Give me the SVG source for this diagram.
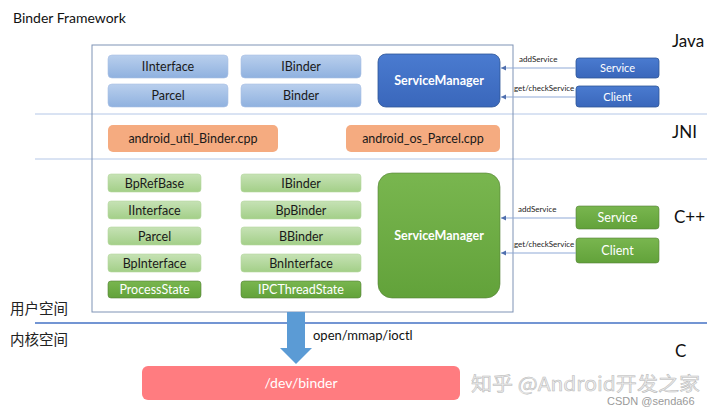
<svg xmlns="http://www.w3.org/2000/svg" width="720" height="415" viewBox="0 0 720 415">
<defs>
<linearGradient id="gBlueL" x1="0" y1="0" x2="0" y2="1"><stop offset="0" stop-color="#b9cfed"/><stop offset="1" stop-color="#8fb1df"/></linearGradient>
<linearGradient id="gBlue" x1="0" y1="0" x2="0" y2="1"><stop offset="0" stop-color="#4a7bd0"/><stop offset="1" stop-color="#3a67bb"/></linearGradient>
<linearGradient id="gGreenL" x1="0" y1="0" x2="0" y2="1"><stop offset="0" stop-color="#c6e2b5"/><stop offset="1" stop-color="#a3cf88"/></linearGradient>
<linearGradient id="gGreen" x1="0" y1="0" x2="0" y2="1"><stop offset="0" stop-color="#79b64f"/><stop offset="1" stop-color="#62a23a"/></linearGradient>
<marker id="ah" markerWidth="6" markerHeight="6" refX="5" refY="3" orient="auto" markerUnits="userSpaceOnUse"><path d="M0,0.5 L5,3 L0,5.5 z" fill="#4f6fae"/></marker>
</defs>
<style>
text{font-family:Lato,"Open Sans","Liberation Sans","Noto Sans CJK SC",sans-serif;}
.cjk{font-family:"Noto Sans CJK SC","Noto Sans",sans-serif;}
.bl{fill:url(#gBlueL);stroke:#a9c0e4;stroke-width:0.6;}
.bd{fill:url(#gBlue);stroke:#2f5597;stroke-width:0.8;}
.or{fill:#f5ab80;}
.gl{fill:url(#gGreenL);stroke:#b5d7a0;stroke-width:0.6;}
.gd{fill:url(#gGreen);stroke:#548235;stroke-width:0.6;}
.t{font-size:12.5px;fill:#1a1a1a;text-anchor:middle;}
.tw{font-size:12.5px;fill:#ffffff;text-anchor:middle;}
.tb{font-size:12.5px;font-weight:bold;fill:#ffffff;text-anchor:middle;}
.lab{font-size:8px;fill:#222;}
.layer{font-size:17px;fill:#111;}
.conn{stroke:#8fa9d6;stroke-width:1;fill:none;marker-end:url(#ah);}
</style>

<text x="13" y="23" style="font-size:14px;fill:#111">Binder Framework</text>

<g id="dividers">
<line x1="35" y1="114" x2="707" y2="114" stroke="#b4c7e7" stroke-width="1"/>
<line x1="35" y1="159" x2="707" y2="159" stroke="#b4c7e7" stroke-width="1"/>
</g>

<g id="frame"><rect x="92" y="45" width="421" height="267" fill="none" stroke="#7f93b5" stroke-width="1"/></g>

<g id="java-iinterface"><rect class="bl" x="108" y="55" width="120" height="23" rx="4"/><text class="t" x="168" y="71">IInterface</text></g>
<g id="java-ibinder"><rect class="bl" x="241" y="55" width="120" height="23" rx="4"/><text class="t" x="301" y="71">IBinder</text></g>
<g id="java-parcel"><rect class="bl" x="108" y="84" width="120" height="23" rx="4"/><text class="t" x="168" y="100">Parcel</text></g>
<g id="java-binder"><rect class="bl" x="241" y="84" width="120" height="23" rx="4"/><text class="t" x="301" y="100">Binder</text></g>
<g id="java-sm"><rect class="bd" x="378" y="54" width="122" height="53" rx="8"/><text class="tb" x="439" y="85">ServiceManager</text></g>
<g id="java-service"><rect class="bd" x="576" y="58" width="83" height="20" rx="3"/><text class="tw" x="617.5" y="72" style="font-size:11px">Service</text></g>
<g id="java-client"><rect class="bd" x="576" y="86" width="83" height="21" rx="3"/><text class="tw" x="617.5" y="100.5" style="font-size:11px">Client</text></g>

<g id="jni-util-binder"><rect class="or" x="108" y="125" width="170" height="27" rx="5"/><text class="t" x="193" y="143">android_util_Binder.cpp</text></g>
<g id="jni-os-parcel"><rect class="or" x="346" y="125" width="154" height="27" rx="5"/><text class="t" x="423" y="143">android_os_Parcel.cpp</text></g>

<g id="cpp-bprefbase"><rect class="gl" x="108" y="174" width="93" height="18" rx="3"/><text class="t" x="154.5" y="187.5">BpRefBase</text></g>
<g id="cpp-ibinder"><rect class="gl" x="241" y="174" width="120" height="18" rx="3"/><text class="t" x="301" y="187.5">IBinder</text></g>
<g id="cpp-iinterface"><rect class="gl" x="108" y="201" width="93" height="18" rx="3"/><text class="t" x="154.5" y="214.5">IInterface</text></g>
<g id="cpp-bpbinder"><rect class="gl" x="241" y="201" width="120" height="18" rx="3"/><text class="t" x="301" y="214.5">BpBinder</text></g>
<g id="cpp-parcel"><rect class="gl" x="108" y="227" width="93" height="18" rx="3"/><text class="t" x="154.5" y="240.5">Parcel</text></g>
<g id="cpp-bbinder"><rect class="gl" x="241" y="227" width="120" height="18" rx="3"/><text class="t" x="301" y="240.5">BBinder</text></g>
<g id="cpp-bpinterface"><rect class="gl" x="108" y="254" width="93" height="18" rx="3"/><text class="t" x="154.5" y="267.5">BpInterface</text></g>
<g id="cpp-bninterface"><rect class="gl" x="241" y="254" width="120" height="18" rx="3"/><text class="t" x="301" y="267.5">BnInterface</text></g>
<g id="cpp-processstate"><rect class="gd" x="108" y="281" width="93" height="17" rx="3"/><text class="tw" x="154.5" y="294">ProcessState</text></g>
<g id="cpp-ipcthreadstate"><rect class="gd" x="241" y="281" width="120" height="17" rx="3"/><text class="tw" x="301" y="294">IPCThreadState</text></g>
<g id="cpp-sm"><rect class="gd" x="378" y="173" width="122" height="125" rx="14" stroke="#5f9a3a"/><text class="tb" x="439" y="240">ServiceManager</text></g>
<g id="cpp-service"><rect class="gd" x="576" y="206" width="83" height="23" rx="3"/><text class="tw" x="617.5" y="222">Service</text></g>
<g id="cpp-client"><rect class="gd" x="576" y="238" width="83" height="25" rx="3"/><text class="tw" x="617.5" y="255">Client</text></g>

<g id="dev-binder"><rect x="142" y="366" width="318" height="34" rx="6" fill="#ff7c80"/><text class="tw" x="301" y="388" style="font-size:14px">/dev/binder</text></g>

<g id="connectors">
<line class="conn" x1="576" y1="68" x2="501" y2="68"/>
<line class="conn" x1="576" y1="97" x2="501" y2="97"/>
<line class="conn" x1="576" y1="218" x2="501" y2="218"/>
<line class="conn" x1="576" y1="253" x2="501" y2="253"/>
<line x1="35" y1="323" x2="707" y2="323" stroke="#4472c4" stroke-width="1.5"/>
<polygon points="287,312 305,312 305,348 312,348 296,364 280,348 287,348" fill="#5b9bd5"/>
</g>

<text class="lab" x="519" y="62">addService</text>
<text class="lab" x="514" y="91">get/checkService</text>
<text class="lab" x="518" y="212">addService</text>
<text class="lab" x="514" y="247">get/checkService</text>
<text x="313" y="340" style="font-size:13px;fill:#111">open/mmap/ioctl</text>

<text class="layer" x="672" y="47">Java</text>
<text class="layer" x="672" y="138">JNI</text>
<text class="layer" x="674" y="223">C++</text>
<text class="layer" x="675" y="357">C</text>

<text class="cjk" x="10" y="314" style="font-size:14.5px;fill:#222">用户空间</text>
<text class="cjk" x="10" y="345" style="font-size:14.5px;fill:#222">内核空间</text>

<text x="471" y="391" textLength="229" lengthAdjust="spacingAndGlyphs" style="font-family:'Noto Sans CJK SC','Noto Sans',sans-serif;font-size:19px;fill:#ececec;stroke:#b8b8b8;stroke-width:0.5">知乎 @Android开发之家</text>
<text x="607" y="405" style="font-family:'Liberation Sans',sans-serif;font-size:11px;fill:#9a9a9a">CSDN @senda66</text>
</svg>
